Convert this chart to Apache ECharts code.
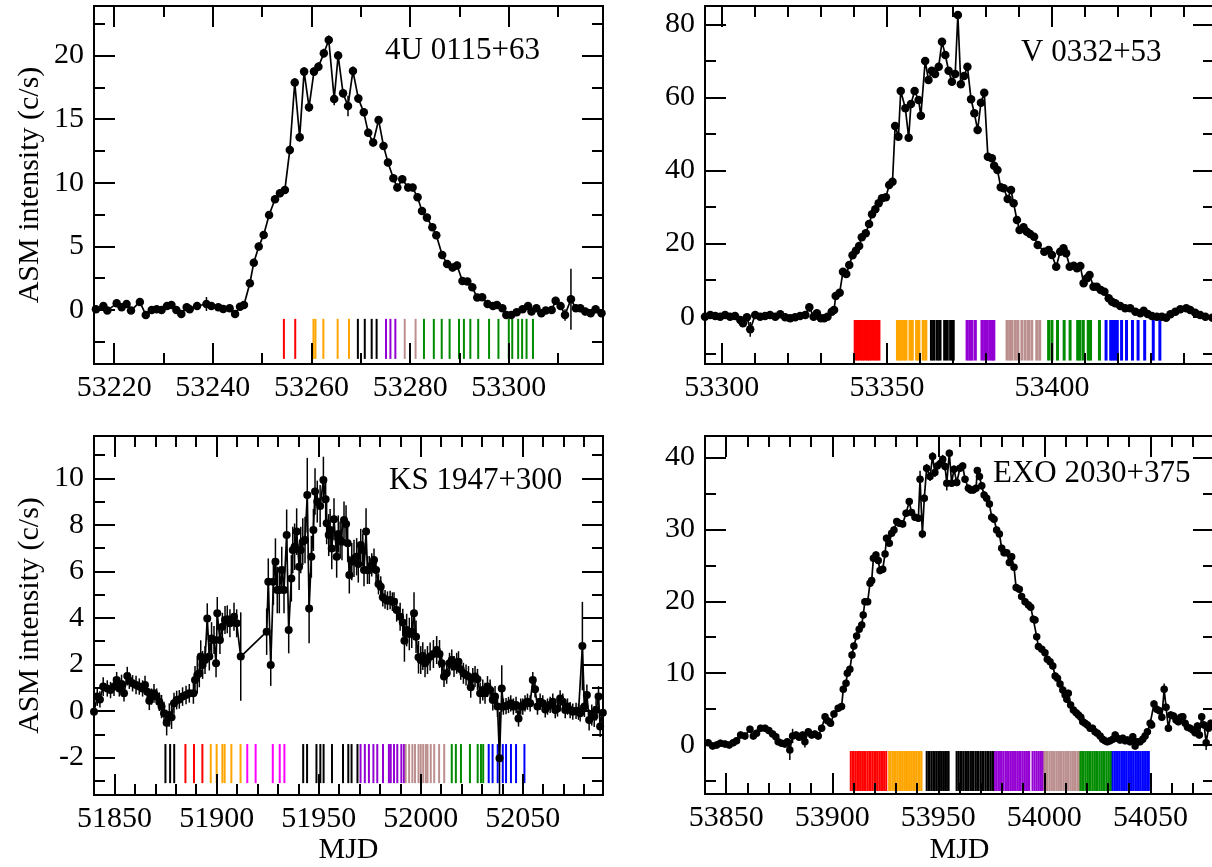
<!DOCTYPE html>
<html>
<head>
<meta charset="utf-8">
<title>ASM light curves of Be/X-ray binary outbursts</title>
<script src="https://cdn.jsdelivr.net/npm/echarts@6.0.0/dist/echarts.min.js"></script>
<style>
  html, body { margin: 0; padding: 0; background: #ffffff; }
  #chart { width: 1212px; height: 867px; }
</style>
</head>
<body>
<div id="chart"></div>
<script>
// ---------------- 4U 0115+63 ----------------
const u_mjd = [53216.3, 53217.8, 53218.6, 53220.5, 53221.5, 53222.5, 53223.4, 53225.2, 53226.4, 53227.6,
  53228.6, 53229.6, 53230.7, 53231.6, 53232.6, 53233.6, 53234.7, 53235.3, 53236.8, 53238.7,
  53239.7, 53241.1, 53242.1, 53243.4, 53244.5, 53245.5, 53246.3, 53247.5, 53248.3, 53249.3,
  53250.3, 53251.4, 53252.6, 53253.6, 53254.6, 53255.6, 53256.6, 53257.6, 53258.5, 53259.5,
  53260.5, 53261.4, 53262.5, 53263.5, 53264.6, 53265.4, 53266.4, 53267.4, 53268.4, 53269.5,
  53270.6, 53271.5, 53272.5, 53273.6, 53274.6, 53275.5, 53276.6, 53277.4, 53278.4, 53279.6,
  53280.5, 53281.5, 53282.4, 53283.4, 53284.5, 53285.3, 53286.5, 53287.5, 53288.6, 53289.5,
  53290.6, 53291.6, 53292.6, 53293.6, 53294.6, 53295.7, 53296.8, 53297.6, 53298.7, 53299.5,
  53300.5, 53301.6, 53302.8, 53303.9, 53304.6, 53305.6, 53306.6, 53307.5, 53308.7, 53309.5,
  53310.5, 53311.4, 53312.6, 53313.6, 53314.5, 53315.5, 53316.6, 53317.6, 53318.8];
const u_rate = [0.05, 0.31, -0.05, 0.52, 0.21, 0.47, -0.05, 0.63, -0.39, 0.00,
  0.05, 0.00, 0.31, 0.39, 0.00, -0.31, 0.21, 0.05, 0.31, 0.47,
  0.31, 0.21, 0.08, 0.13, -0.31, 0.26, 0.39, 2.10, 3.72, 4.98,
  5.90, 7.47, 8.70, 9.17, 9.44, 12.58, 17.88, 13.58, 18.74, 15.94,
  18.74, 19.13, 20.18, 21.23, 16.59, 20.00, 17.04, 16.04, 18.79, 16.62,
  15.54, 13.94, 13.16, 14.94, 12.90, 11.59, 10.35, 9.62, 10.28, 9.62,
  9.62, 8.86, 7.78, 7.26, 6.50, 5.87, 4.32, 3.62, 3.33, 3.49,
  2.28, 2.23, 1.78, 0.97, 1.00, 0.47, 0.31, 0.39, 0.13, -0.39,
  -0.39, -0.18, 0.05, 0.31, -0.13, 0.13, -0.26, -0.05, 0.00, 0.73,
  0.31, -0.39, 0.84, 0.13, 0.13, -0.13, -0.26, 0.05, -0.26];
const u_err = [0.25, 0.25, 0.25, 0.25, 0.25, 0.25, 0.25, 0.25, 0.25, 0.25,
  0.25, 0.25, 0.25, 0.25, 0.25, 0.3, 0.25, 0.25, 0.3, 0.55,
  0.25, 0.25, 0.25, 0.25, 0.3, 0.25, 0.25, 0.3, 0.3, 0.3,
  0.3, 0.3, 0.3, 0.3, 0.3, 0.35, 0.35, 0.35, 0.35, 0.35,
  0.35, 0.35, 0.35, 0.35, 0.5, 0.35, 0.35, 0.8, 0.35, 0.35,
  0.3, 0.3, 0.3, 0.3, 0.3, 0.3, 0.3, 0.3, 0.3, 0.3,
  0.3, 0.3, 0.3, 0.3, 0.3, 0.3, 0.3, 0.3, 0.3, 0.3,
  0.25, 0.25, 0.25, 0.25, 0.25, 0.25, 0.25, 0.25, 0.25, 0.25,
  0.25, 0.25, 0.25, 0.3, 0.25, 0.25, 0.3, 0.25, 0.3, 0.3,
  0.3, 0.45, 2.4, 0.3, 0.3, 0.3, 0.3, 0.3, 0.3];
// pointed observations, grouped by colour
const u_red = [53254.4, 53256.7];
const u_orange = [53260.4, 53260.8, 53262.4, 53265.3, 53267.6];
const u_black = [53269.4, 53270.8, 53272.2, 53273.2];
const u_violet = [53275.1, 53276.0, 53277.0];
const u_brown = [53278.9, 53281.1];
const u_green = [53282.8, 53284.8, 53286.4, 53288.0, 53289.9, 53290.9, 53292.2, 53293.8, 53296.0, 53297.9,
  53300.0, 53300.7, 53301.9, 53302.7, 53303.6, 53304.9];
const u_band = [-0.7, -3.85];
const u_xMajor = [53220, 53240, 53260, 53280, 53300];
const u_xMinor = [53230, 53250, 53270, 53290, 53310];
const u_yMajor = [0, 5, 10, 15, 20];
const u_yMinor = [-2.5, 2.5, 7.5, 12.5, 17.5, 22.5];

// ---------------- V 0332+53 ----------------
const v_mjd = [53294.9, 53296.5, 53298.0, 53299.5, 53301.0, 53302.5, 53304.0, 53305.6, 53306.4, 53307.6,
  53308.6, 53310.1, 53311.6, 53313.1, 53314.6, 53316.2, 53317.7, 53319.2, 53320.7, 53322.2,
  53323.7, 53325.3, 53326.5, 53327.8, 53328.8, 53330.0, 53331.0, 53332.0, 53333.3, 53334.0,
  53334.5, 53335.7, 53336.7, 53337.7, 53338.6, 53339.6, 53340.6, 53341.6, 53342.4, 53343.6,
  53344.6, 53345.5, 53346.5, 53347.5, 53348.5, 53349.7, 53350.7, 53351.7, 53352.5, 53353.5,
  53354.2, 53355.6, 53356.6, 53357.3, 53358.4, 53359.6, 53360.3, 53361.6, 53362.6, 53363.6,
  53364.6, 53365.7, 53366.7, 53367.7, 53368.7, 53369.7, 53370.7, 53371.5, 53372.4, 53373.4,
  53374.4, 53375.5, 53376.5, 53377.5, 53378.5, 53379.5, 53380.6, 53381.8, 53382.5, 53383.5,
  53384.5, 53385.4, 53386.6, 53387.6, 53388.4, 53389.4, 53390.2, 53391.4, 53392.4, 53393.4,
  53394.6, 53395.7, 53397.7, 53399.0, 53400.0, 53401.3, 53402.5, 53403.5, 53404.3, 53405.4,
  53406.6, 53407.6, 53408.6, 53409.6, 53410.6, 53411.4, 53412.6, 53413.6, 53414.8, 53415.9,
  53417.2, 53418.2, 53419.2, 53420.7, 53422.2, 53423.7, 53425.3, 53426.8, 53427.8, 53429.0,
  53430.3, 53431.8, 53433.3, 53434.6, 53435.9, 53437.4, 53438.9, 53440.7, 53441.9, 53443.4,
  53444.9, 53446.5, 53448.6];
const v_rate = [0.0, 0.46, 0.19, 0.0, 0.46, 0.0, 0.19, -0.91, -1.82, -0.18,
  -3.46, 0.46, 0.0, 0.19, 0.46, 0.0, 0.65, -0.18, -0.45, -0.18,
  0.19, 0.46, 2.56, 0.0, 0.92, -0.45, -0.45, 0.0, 1.38, 1.83,
  5.66, 6.57, 12.32, 11.68, 14.14, 16.79, 18.07, 19.34, 21.72, 22.81,
  25.36, 28.01, 29.38, 31.02, 32.39, 32.66, 36.03, 36.94, 52.18, 49.26,
  61.75, 57.01, 48.98, 58.19, 61.75, 59.29, 55.00, 69.96, 64.76, 67.31,
  66.40, 68.41, 75.25, 71.60, 67.31, 64.30, 66.40, 82.54, 63.58, 65.86,
  68.41, 59.47, 55.64, 51.08, 58.56, 61.30, 43.78, 43.33, 41.32, 40.14,
  35.40, 35.12, 32.20, 34.67, 31.02, 26.46, 23.72, 24.45, 23.26, 22.63,
  21.90, 19.62, 17.79, 18.25, 16.88, 13.69, 17.79, 18.71, 17.34, 13.69,
  13.96, 13.23, 13.87, 9.13, 10.50, 11.41, 8.22, 8.22, 7.31, 6.85,
  5.03, 4.11, 3.66, 2.93, 2.29, 2.29, 1.38, 0.92, 1.65, 0.74,
  0.19, 0.0, 0.0, -0.27, 0.65, 1.38, 2.02, 2.29, 1.83, 1.10,
  0.46, 0.0, -0.27];
const v_err = [0.6, 0.6, 0.6, 0.6, 0.6, 0.6, 0.6, 0.8, 1.0, 0.6,
  2.0, 0.6, 0.6, 0.6, 0.6, 0.6, 0.6, 0.6, 0.6, 0.6,
  0.6, 0.6, 1.2, 0.6, 0.6, 0.6, 0.6, 0.6, 0.6, 0.6,
  0.7, 0.7, 0.7, 0.7, 0.7, 0.7, 0.7, 0.7, 0.7, 0.7,
  0.7, 0.7, 0.7, 0.7, 0.7, 0.7, 0.7, 1.0, 1.0, 1.0,
  1.0, 1.0, 1.0, 1.0, 1.0, 1.0, 1.0, 1.0, 1.0, 1.0,
  1.0, 1.0, 1.0, 1.0, 1.0, 1.0, 1.0, 1.0, 1.0, 1.0,
  1.0, 1.0, 1.0, 1.0, 1.0, 1.0, 1.0, 1.0, 1.0, 1.0,
  1.0, 1.0, 1.0, 1.0, 1.0, 1.0, 1.0, 1.0, 1.0, 1.0,
  0.8, 0.8, 0.8, 0.8, 0.8, 0.8, 0.8, 0.8, 0.8, 0.8,
  0.8, 0.8, 0.8, 0.8, 0.8, 0.8, 0.8, 0.8, 0.8, 0.8,
  0.6, 0.6, 0.6, 0.6, 0.6, 0.6, 0.6, 0.6, 0.6, 0.6,
  0.6, 0.6, 0.6, 0.6, 0.6, 0.6, 0.6, 0.6, 0.6, 0.6,
  0.6, 0.6, 0.6];
const v_red = [53340.4, 53341.1, 53341.9, 53342.6, 53343.3, 53344.1, 53344.7, 53345.4, 53346.2, 53346.9, 53347.6];
const v_orange = [53353.2, 53353.8, 53354.4, 53355.2, 53355.8, 53357.0, 53357.7, 53359.0, 53359.7, 53361.0, 53361.8];
const v_black = [53363.5, 53364.3, 53365.3, 53366.1, 53367.5, 53368.3, 53369.3, 53370.1];
const v_violet = [53374.3, 53375.1, 53375.8, 53376.8, 53378.8, 53379.6, 53380.4, 53381.2, 53381.9, 53382.4];
const v_brown = [53386.4, 53387.2, 53387.9, 53388.9, 53389.7, 53390.9, 53391.9, 53392.9, 53393.9, 53395.4, 53396.3];
const v_green = [53399.0, 53400.0, 53401.7, 53403.7, 53405.5, 53407.8, 53408.5, 53409.5, 53411.0, 53411.7, 53414.4];
const v_blue = [53416.4, 53417.8, 53418.4, 53419.1, 53419.8, 53421.1, 53422.6, 53424.4, 53426.1, 53428.1, 53430.7, 53432.7];
const v_band = [-0.9, -12.0];
const v_xMajor = [53300, 53350, 53400];
const v_xMinor = [53310, 53320, 53330, 53340, 53360, 53370, 53380, 53390, 53410, 53420, 53430, 53440];
const v_yMajor = [0, 20, 40, 60, 80];
const v_yMinor = [-10, 10, 30, 50, 70];

// ---------------- KS 1947+300 ----------------
const k_mjd = [51839.9, 51841.5, 51842.8, 51844.4, 51846.4, 51848.0, 51849.7, 51851.0, 51852.3, 51853.4,
  51854.6, 51856.2, 51857.2, 51858.8, 51860.5, 51862.1, 51863.7, 51864.9, 51866.0, 51867.0,
  51868.1, 51869.3, 51870.6, 51871.9, 51873.0, 51874.2, 51875.5, 51876.8, 51877.9, 51879.1,
  51880.4, 51881.7, 51883.3, 51885.0, 51886.6, 51888.6, 51889.4, 51890.5, 51891.5, 51892.2,
  51893.1, 51894.3, 51895.4, 51896.4, 51897.5, 51898.7, 51899.7, 51900.3, 51901.6, 51902.8,
  51904.1, 51905.2, 51906.5, 51908.5, 51909.8, 51911.8, 51924.5, 51925.3, 51926.5, 51927.8,
  51928.8, 51929.7, 51930.7, 51931.9, 51933.0, 51934.3, 51935.3, 51936.6, 51937.3, 51938.2,
  51939.2, 51940.4, 51941.2, 51942.2, 51943.3, 51944.4, 51945.3, 51946.4, 51947.4, 51948.2,
  51949.3, 51950.7, 51952.3, 51953.4, 51953.9, 51954.9, 51955.6, 51956.4, 51957.5, 51958.8,
  51959.6, 51960.5, 51961.4, 51962.4, 51963.4, 51964.2, 51965.0, 51966.2, 51967.3, 51968.6,
  51969.4, 51970.6, 51971.6, 51972.2, 51973.2, 51973.9, 51974.8, 51976.0, 51977.1, 51978.1,
  51979.3, 51980.4, 51981.4, 51982.5, 51983.7, 51985.0, 51986.1, 51986.9, 51988.2, 51989.9,
  51991.2, 51992.0, 51993.1, 51994.4, 51995.6, 51996.7, 51997.7, 51998.9, 52000.0, 52001.0,
  52002.1, 52003.3, 52004.6, 52006.2, 52007.8, 52009.2, 52010.3, 52011.4, 52012.7, 52014.1,
  52015.2, 52016.3, 52017.6, 52018.5, 52019.6, 52020.9, 52022.2, 52023.4, 52024.5, 52025.5,
  52026.6, 52027.8, 52029.1, 52030.4, 52031.5, 52032.7, 52034.0, 52035.3, 52036.4, 52037.6,
  52038.6, 52039.7, 52040.5, 52041.8, 52043.0, 52044.1, 52045.4, 52046.7, 52047.9, 52049.0,
  52050.0, 52051.1, 52052.3, 52053.6, 52054.9, 52056.0, 52057.2, 52058.5, 52059.8, 52061.0,
  52062.1, 52063.4, 52064.7, 52065.9, 52067.0, 52068.3, 52069.6, 52070.8, 52071.9, 52073.2,
  52074.5, 52076.1, 52077.3, 52078.1, 52079.2, 52080.2, 52081.4, 52082.5, 52083.8, 52085.0,
  52085.9, 52087.1, 52087.9, 52089.2];
const k_rate = [-0.03, 0.62, 0.50, 1.05, 0.97, 0.90, 1.05, 1.33, 0.97, 1.16,
  0.76, 1.50, 1.30, 1.19, 1.12, 1.05, 0.97, 1.12, 0.83, 0.44,
  0.62, 0.76, 0.62, 0.40, 0.19, -0.10, -0.50, -0.17, -0.27, 0.33,
  0.47, 0.50, 0.62, 0.69, 0.76, 0.76, 1.33, 1.55, 1.62, 2.34,
  1.98, 2.19, 3.98, 2.34, 3.12, 3.05, 2.05, 4.20, 3.05, 3.62,
  3.91, 3.94, 3.77, 4.05, 3.77, 2.34, 3.41, 5.56, 1.98, 5.56,
  6.42, 5.20, 5.20, 6.06, 5.20, 7.56, 3.48, 5.70, 6.92, 7.06,
  7.71, 6.20, 6.92, 7.28, 7.35, 9.28, 4.41, 6.63, 7.78, 9.43,
  9.00, 8.81, 9.93, 9.10, 8.07, 7.56, 7.78, 6.99, 8.24, 6.63,
  7.61, 7.35, 7.28, 8.21, 8.04, 7.21, 5.85, 6.42, 6.56, 6.63,
  6.32, 7.13, 6.92, 6.06, 7.71, 6.06, 6.06, 6.28, 6.49, 6.06,
  5.46, 5.34, 4.89, 4.80, 4.74, 4.77, 4.70, 4.70, 4.34, 4.05,
  3.80, 3.02, 3.48, 3.31, 3.41, 4.20, 3.19, 2.31, 2.19, 2.36,
  2.05, 2.19, 2.34, 2.45, 2.62, 2.45, 2.05, 1.48, 1.62, 2.05,
  2.19, 1.91, 2.05, 2.12, 1.79, 1.62, 1.55, 1.48, 1.02, 1.40,
  1.48, 1.36, 0.76, 0.90, 0.76, 1.05, 0.90, 0.47, 0.62, 0.19,
  -2.03, 0.97, 0.19, 0.21, 0.26, 0.33, 0.19, 0.26, -0.32, 0.19,
  0.19, 0.33, 0.40, 0.33, 1.33, 0.93, 0.19, 0.40, 0.33, 0.07,
  0.19, 0.26, 0.40, 0.04, 0.11, 0.54, 0.40, 0.04, 0.19, 0.04,
  -0.03, 0.01, -0.03, -0.10, 2.79, 0.19, 0.69, -0.39, -0.17, -0.24,
  0.04, 0.62, -0.67, -0.07];
const k_err = [0.35, 0.4, 0.35, 0.4, 0.35, 0.35, 0.4, 0.35, 0.35, 0.4,
  0.35, 0.4, 0.35, 0.35, 0.4, 0.35, 0.35, 0.4, 0.35, 0.4,
  0.35, 0.4, 0.35, 0.4, 0.5, 0.5, 0.55, 0.5, 0.5, 0.45,
  0.4, 0.4, 0.4, 0.4, 0.4, 0.45, 0.6, 0.8, 0.6, 0.7,
  0.6, 0.6, 0.65, 0.6, 0.7, 0.6, 0.6, 0.7, 0.6, 0.6,
  0.6, 0.6, 0.6, 0.6, 0.6, 1.9, 1.0, 1.0, 0.9, 1.0,
  1.0, 1.0, 1.0, 1.0, 1.0, 1.1, 1.0, 1.0, 1.0, 1.0,
  1.0, 1.0, 1.0, 1.0, 1.0, 1.6, 1.5, 0.9, 0.9, 1.0,
  0.9, 0.9, 1.0, 0.9, 0.9, 0.9, 0.9, 0.9, 0.9, 0.9,
  0.8, 0.8, 0.8, 0.8, 0.8, 0.8, 0.8, 0.8, 0.8, 0.8,
  0.8, 0.7, 0.7, 0.7, 1.0, 0.6, 0.6, 0.5, 0.5, 0.5,
  0.45, 0.45, 0.4, 0.4, 0.4, 0.4, 0.4, 0.4, 0.5, 0.6,
  0.6, 0.9, 0.7, 0.7, 0.7, 0.9, 0.7, 0.7, 0.6, 0.6,
  0.6, 0.6, 0.6, 0.6, 0.6, 0.6, 0.5, 0.45, 0.45, 0.45,
  0.45, 0.45, 0.45, 0.45, 0.45, 0.45, 0.45, 0.45, 0.45, 0.45,
  0.45, 0.45, 0.45, 0.45, 0.45, 0.45, 0.45, 0.45, 0.45, 0.45,
  2.0, 1.0, 0.35, 0.35, 0.35, 0.35, 0.35, 0.35, 0.35, 0.35,
  0.35, 0.35, 0.35, 0.35, 0.35, 0.35, 0.35, 0.35, 0.35, 0.35,
  0.35, 0.35, 0.35, 0.35, 0.35, 0.35, 0.35, 0.35, 0.35, 0.35,
  0.35, 0.35, 0.35, 0.35, 1.9, 0.45, 0.45, 0.45, 0.45, 0.45,
  0.45, 0.45, 0.45, 0.45];
const k_black = [51874.9, 51877.2, 51879.2, 51942.4, 51944.3, 51948.9, 51950.8, 51952.4, 51956.5, 51961.9,
  51964.5, 51966.1, 51969.0];
const k_red = [51884.7, 51888.9, 51893.0];
const k_orange = [51897.1, 51900.0, 51902.8, 51903.9, 51907.2, 51911.7];
const k_magenta = [51915.0, 51919.1, 51927.5, 51930.9, 51933.2];
const k_violet = [51970.5, 51972.6, 51974.6, 51976.8, 51978.7, 51981.5, 51984.4, 51985.3, 51986.9, 51988.5,
  51990.5, 51991.8];
const k_brown = [51992.6, 51994.3, 51995.9, 51997.2, 51998.9, 52000.0, 52001.2, 52002.5, 52003.3, 52004.9,
  52006.6, 52009.0, 52011.5];
const k_green = [52015.2, 52017.2, 52019.7, 52024.1, 52027.9, 52029.5, 52030.6];
const k_blue = [52033.3, 52035.2, 52037.7, 52040.2, 52041.8, 52044.2, 52046.7, 52050.8];
const k_band = [-1.42, -3.1];
const k_xMajor = [51850, 51900, 51950, 52000, 52050];
const k_xMinor = [51860, 51870, 51880, 51890, 51910, 51920, 51930, 51940, 51960, 51970, 51980, 51990,
  52010, 52020, 52030, 52040, 52060, 52070, 52080];
const k_yMajor = [-2, 0, 2, 4, 6, 8, 10];
const k_yMinor = [-3, -1, 1, 3, 5, 7, 9, 11];

// ---------------- EXO 2030+375 ----------------
const e_mjd = [53839.5, 53841.5, 53843.6, 53845.5, 53847.3, 53849.4, 53851.4, 53853.3, 53854.9, 53856.8,
  53858.8, 53861.2, 53862.8, 53864.3, 53866.2, 53868.3, 53870.1, 53871.9, 53873.4, 53874.5,
  53876.1, 53877.7, 53878.8, 53880.0, 53881.3, 53882.9, 53884.4, 53886.0, 53887.1, 53888.7,
  53890.3, 53891.8, 53893.4, 53895.0, 53896.6, 53897.8, 53899.2, 53900.8, 53902.8, 53904.4,
  53905.2, 53906.5, 53907.1, 53908.3, 53909.3, 53910.2, 53911.5, 53912.7, 53913.9, 53914.6,
  53915.4, 53916.7, 53917.8, 53918.6, 53919.4, 53920.6, 53921.7, 53922.5, 53923.8, 53924.9,
  53925.6, 53926.9, 53928.0, 53929.1, 53930.4, 53931.6, 53933.2, 53934.8, 53936.3, 53937.4,
  53939.0, 53940.6, 53941.4, 53942.5, 53943.4, 53944.5, 53946.1, 53947.3, 53948.4, 53949.5,
  53951.1, 53952.1, 53953.2, 53954.0, 53955.2, 53956.3, 53957.4, 53958.7, 53960.2, 53961.5,
  53962.6, 53964.2, 53965.3, 53966.5, 53967.8, 53968.4, 53969.4, 53970.5, 53971.6, 53972.8,
  53974.1, 53975.2, 53976.3, 53977.5, 53978.8, 53979.9, 53981.0, 53982.3, 53983.5, 53984.6,
  53985.7, 53986.7, 53988.2, 53989.3, 53990.9, 53992.5, 53993.6, 53994.8, 53995.6, 53996.4,
  53997.2, 53998.8, 54000.3, 54001.4, 54002.7, 54004.0, 54005.1, 54006.2, 54007.4, 54008.7,
  54009.8, 54010.6, 54011.3, 54012.4, 54013.7, 54015.0, 54016.1, 54017.2, 54018.1, 54019.2,
  54020.3, 54021.6, 54022.7, 54023.9, 54025.0, 54026.3, 54027.5, 54028.6, 54029.7, 54031.0,
  54032.3, 54033.4, 54034.5, 54035.7, 54037.0, 54038.1, 54039.2, 54040.4, 54041.7, 54042.8,
  54043.9, 54045.1, 54046.4, 54047.5, 54048.6, 54049.9, 54050.6, 54051.7, 54053.0, 54054.3,
  54055.4, 54056.5, 54057.4, 54058.5, 54059.6, 54060.9, 54062.1, 54063.2, 54064.3, 54065.3,
  54066.4, 54067.5, 54068.7, 54070.0, 54071.1, 54072.2, 54073.1, 54074.2, 54075.3, 54076.3,
  54077.4, 54078.5];
const e_rate = [0.14, 0.32, -0.14, 0.00, 0.23, 0.14, 0.00, 0.32, 0.60, 1.39,
  1.25, 2.18, 1.25, 1.62, 2.32, 2.32, 2.00, 1.53, 1.16, 0.46,
  0.23, 0.14, 0.46, -0.70, 1.25, 1.39, 1.07, 1.39, 0.46, 1.86,
  1.39, 1.53, 1.25, 2.32, 3.94, 3.39, 3.02, 4.32, 5.10, 5.34,
  7.75, 8.58, 9.98, 10.53, 12.53, 13.78, 15.17, 16.10, 16.71, 18.10,
  19.95, 19.95, 22.51, 22.88, 25.99, 26.45, 25.66, 24.27, 24.45, 26.59,
  28.77, 28.07, 29.47, 29.93, 31.09, 30.86, 30.77, 32.25, 33.87, 32.34,
  31.69, 31.55, 36.98, 29.37, 34.34, 38.52, 37.35, 40.14, 37.91, 38.84,
  39.21, 39.77, 38.75, 36.43, 40.60, 36.43, 38.38, 36.52, 38.52, 38.84,
  36.98, 35.73, 35.50, 35.50, 35.73, 38.19, 37.35, 36.06, 34.80, 34.34,
  33.55, 31.69, 31.42, 29.93, 29.37, 27.38, 26.77, 26.77, 25.38, 26.21,
  24.73, 21.90, 21.67, 20.65, 19.95, 19.49, 19.16, 17.49, 17.40, 15.08,
  13.69, 13.32, 12.85, 11.93, 11.60, 11.00, 9.61, 9.28, 8.49, 7.66,
  6.96, 6.36, 7.19, 5.57, 4.87, 4.50, 4.18, 3.85, 3.25, 3.02,
  2.78, 2.32, 2.32, 1.86, 1.62, 1.25, 0.79, 0.60, 0.46, 0.60,
  0.79, 1.39, 0.93, 0.70, 0.93, 0.60, 0.70, 0.46, 1.16, -0.14,
  0.46, 0.46, 0.79, 1.25, 1.86, 3.02, 2.78, 5.71, 4.97, 4.78,
  3.85, 7.75, 5.24, 2.32, 4.18, 4.04, 3.48, 3.25, 3.85, 3.94,
  3.02, 2.46, 2.32, 2.09, 1.72, 2.65, 1.39, 3.94, 2.78, 0.32,
  2.32, 3.02];
const e_err = [0.5, 0.5, 0.5, 0.5, 0.5, 0.5, 0.5, 0.5, 0.5, 0.5,
  0.5, 0.5, 0.5, 0.5, 0.5, 0.5, 0.5, 0.5, 0.5, 0.5,
  0.5, 0.5, 0.5, 1.4, 1.0, 0.5, 0.5, 0.5, 0.8, 0.5,
  0.5, 0.5, 0.5, 0.5, 0.5, 0.5, 0.5, 0.5, 0.5, 0.5,
  0.5, 0.5, 0.5, 0.5, 0.5, 0.5, 0.5, 0.5, 0.5, 0.5,
  0.5, 0.5, 0.5, 0.5, 0.5, 0.5, 0.5, 0.5, 0.5, 0.5,
  0.5, 0.5, 0.5, 0.5, 0.5, 0.5, 0.5, 0.5, 0.5, 0.5,
  0.5, 0.5, 1.2, 0.6, 0.6, 0.6, 0.6, 0.6, 0.6, 0.6,
  0.6, 0.6, 0.6, 1.0, 0.5, 0.5, 0.5, 0.5, 0.5, 0.5,
  0.5, 0.5, 0.5, 0.5, 0.5, 0.5, 0.5, 0.5, 0.5, 0.5,
  0.5, 0.5, 0.5, 0.5, 0.5, 0.5, 0.5, 0.5, 0.5, 0.5,
  0.5, 0.5, 0.5, 0.5, 0.5, 0.5, 0.5, 0.5, 0.5, 0.5,
  0.5, 0.5, 0.5, 0.5, 0.5, 0.5, 0.5, 0.5, 0.5, 0.5,
  0.5, 0.5, 0.5, 0.5, 0.5, 0.5, 0.5, 0.5, 0.5, 0.5,
  0.5, 0.5, 0.5, 0.5, 0.5, 0.5, 0.5, 0.5, 0.5, 0.5,
  0.5, 0.5, 0.5, 0.5, 0.5, 0.5, 0.5, 0.5, 0.5, 0.5,
  0.5, 0.5, 0.5, 0.5, 0.5, 0.5, 0.5, 0.5, 0.5, 0.5,
  0.5, 0.8, 0.5, 0.5, 0.5, 0.5, 0.5, 0.5, 0.5, 0.5,
  0.5, 0.5, 0.5, 0.5, 0.5, 0.5, 0.5, 0.5, 0.5, 1.0,
  0.5, 0.5];
const e_red = [53908.7, 53909.5, 53910.2, 53911.1, 53911.9, 53912.6, 53913.5, 53914.3, 53915.0, 53915.8,
  53916.7, 53917.5, 53918.2, 53919.1, 53919.9, 53920.6, 53921.5, 53922.4, 53923.1, 53923.9, 53924.7, 53925.5];
const e_orange = [53926.8, 53927.6, 53928.5, 53929.2, 53930.0, 53930.9, 53931.7, 53932.4, 53933.3, 53934.1,
  53934.8, 53935.7, 53936.5, 53937.2, 53938.1, 53938.9, 53939.6, 53940.5, 53941.3, 53942.1];
const e_black = [53944.5, 53945.3, 53946.0, 53946.9, 53947.7, 53948.4, 53949.3, 53950.1, 53950.8, 53951.7,
  53952.5, 53953.2, 53954.1, 53954.9,
  53958.6, 53959.4, 53960.3, 53961.0, 53961.8, 53962.7, 53963.5, 53964.2, 53965.1, 53965.9,
  53966.6, 53967.5, 53968.3, 53969.0, 53969.9, 53970.7, 53971.4, 53972.3, 53973.1, 53973.8,
  53974.7, 53975.5, 53976.1];
const e_violet = [53976.7, 53977.5, 53978.3, 53979.1, 53979.9, 53980.7, 53981.6, 53982.4, 53983.2, 53984.0,
  53984.8, 53985.7, 53986.5, 53987.3, 53988.1, 53988.9, 53989.8, 53990.6, 53991.4, 53992.3, 53992.9,
  53994.4, 53995.3, 53996.2, 53997.1, 53998.0, 53998.9, 53999.5];
const e_brown = [54000.0, 54000.8, 54001.6, 54002.5, 54003.3, 54004.1, 54004.9, 54005.8, 54006.6, 54007.4,
  54008.2, 54009.1, 54009.9, 54010.7, 54011.5, 54012.4, 54013.2, 54014.0, 54014.8, 54015.7, 54016.4];
const e_green = [54017.0, 54017.8, 54018.6, 54019.5, 54020.3, 54021.1, 54021.9, 54022.8, 54023.6, 54024.4,
  54025.2, 54026.1, 54026.9, 54027.7, 54028.5, 54029.4, 54030.2, 54031.0, 54031.6];
const e_blue = [54032.2, 54033.0, 54033.8, 54034.7, 54035.5, 54036.3, 54037.1, 54038.0, 54038.8, 54039.6,
  54040.4, 54041.3, 54042.1, 54042.9, 54043.7, 54044.6, 54045.4, 54046.2, 54047.0, 54047.9, 54048.7, 54049.3];
const e_band = [-0.84, -6.4];
const e_xMajor = [53850, 53900, 53950, 54000, 54050];
const e_xMinor = [53860, 53870, 53880, 53890, 53910, 53920, 53930, 53940, 53960, 53970, 53980, 53990,
  54010, 54020, 54030, 54040, 54060, 54070];
const e_yMajor = [0, 10, 20, 30, 40];
const e_yMinor = [-5, 5, 15, 25, 35];

// ---------------- styling ----------------
const FONT = '"Liberation Serif", "Times New Roman", Times, serif';
const COL = {
  red: '#ff0000', orange: '#ffa500', black: '#000000', violet: '#9400d3',
  brown: '#bc8f8f', green: '#008b00', blue: '#0000ff', magenta: '#ff00ff'
};

const panels = [
  { title: '4U 0115+63', mjd: u_mjd, rate: u_rate, err: u_err, band: u_band,
    obs: [['red', u_red], ['orange', u_orange], ['black', u_black], ['violet', u_violet], ['brown', u_brown], ['green', u_green]],
    xRange: [53215.9, 53319.1], yRange: [-4.25, 23.9],
    xMajor: u_xMajor, xMinor: u_xMinor, yMajor: u_yMajor, yMinor: u_yMinor,
    box: [94, 6, 509, 358], titleAt: [385, 51], barWidth: 2, dot: 8.5 },
  { title: 'V 0332+53', mjd: v_mjd, rate: v_rate, err: v_err, band: v_band,
    obs: [['red', v_red], ['orange', v_orange], ['black', v_black], ['violet', v_violet], ['brown', v_brown], ['green', v_green], ['blue', v_blue]],
    xRange: [53294.9, 53449.1], yRange: [-12.94, 85.0],
    xMajor: v_xMajor, xMinor: v_xMinor, yMajor: v_yMajor, yMinor: v_yMinor,
    box: [705, 6, 509, 358], titleAt: [1021, 52.5], barWidth: 3, dot: 8.5 },
  { title: 'KS 1947+300', mjd: k_mjd, rate: k_rate, err: k_err, band: k_band,
    obs: [['black', k_black], ['red', k_red], ['orange', k_orange], ['magenta', k_magenta], ['violet', k_violet], ['brown', k_brown], ['green', k_green], ['blue', k_blue]],
    xRange: [51839.9, 52089.3], yRange: [-3.61, 11.82],
    xMajor: k_xMajor, xMinor: k_xMinor, yMajor: k_yMajor, yMinor: k_yMinor,
    box: [94, 436, 509, 359], titleAt: [389, 481], barWidth: 2, dot: 8 },
  { title: 'EXO 2030+375', mjd: e_mjd, rate: e_rate, err: e_err, band: e_band,
    obs: [['red', e_red], ['orange', e_orange], ['black', e_black], ['violet', e_violet], ['brown', e_brown], ['green', e_green], ['blue', e_blue]],
    xRange: [53840.0, 54080.0], yRange: [-6.82, 43.0],
    xMajor: e_xMajor, xMinor: e_xMinor, yMajor: e_yMajor, yMinor: e_yMinor,
    box: [705, 436, 509, 358], titleAt: [993, 474], barWidth: 1.9, dot: 7.5 }
];

const LONG = 21, SHORT = 11;
const tickLine = { color: '#000', width: 2 };
const labelStyle = { color: '#000', fontFamily: FONT, fontSize: 30 };

function axis(gi, range, position, values, len, withLabels, margin) {
  return {
    gridIndex: gi, type: 'value', position: position,
    min: range[0], max: range[1],
    splitLine: { show: false },
    axisLine: { show: false, onZero: false },
    axisTick: { show: true, inside: true, length: len, customValues: values, lineStyle: tickLine },
    axisLabel: withLabels
      ? Object.assign({ show: true, customValues: values, margin: margin, formatter: v => String(v) }, labelStyle)
      : { show: false },
    silent: true, z: 5
  };
}

const grids = [], xAxes = [], yAxes = [], series = [], graphics = [];

panels.forEach((P, gi) => {
  grids.push({
    left: P.box[0], top: P.box[1], width: P.box[2], height: P.box[3],
    show: true, borderColor: '#000', borderWidth: 2, backgroundColor: 'rgba(0,0,0,0)',
    containLabel: false, outerBoundsMode: 'none'
  });
  xAxes.push(axis(gi, P.xRange, 'bottom', P.xMajor, LONG, true, 9));
  xAxes.push(axis(gi, P.xRange, 'bottom', P.xMinor, SHORT, false));
  xAxes.push(axis(gi, P.xRange, 'top', P.xMajor, LONG, false));
  xAxes.push(axis(gi, P.xRange, 'top', P.xMinor, SHORT, false));
  yAxes.push(axis(gi, P.yRange, 'left', P.yMajor, LONG, true, 10));
  yAxes.push(axis(gi, P.yRange, 'left', P.yMinor, SHORT, false));
  yAxes.push(axis(gi, P.yRange, 'right', P.yMajor, LONG, false));
  yAxes.push(axis(gi, P.yRange, 'right', P.yMinor, SHORT, false));

  const xi = gi * 4, yi = gi * 4;

  // observation markers below the light curve
  P.obs.forEach(([name, list]) => {
    const color = COL[name];
    series.push({
      type: 'custom', xAxisIndex: xi, yAxisIndex: yi, clip: true, silent: true, z: 1,
      data: list.map(m => [m, P.band[0], P.band[1]]),
      encode: { x: 0, y: [1, 2] },
      renderItem: (params, api) => {
        const a = api.coord([api.value(0), api.value(1)]);
        const b = api.coord([api.value(0), api.value(2)]);
        return { type: 'line', shape: { x1: a[0], y1: a[1], x2: b[0], y2: b[1] },
                 style: { stroke: color, lineWidth: P.barWidth } };
      }
    });
  });

  // error bars
  series.push({
    type: 'custom', xAxisIndex: xi, yAxisIndex: yi, clip: true, silent: true, z: 2,
    data: P.mjd.map((m, i) => [m, P.rate[i] - P.err[i], P.rate[i] + P.err[i]]),
    encode: { x: 0, y: [1, 2] },
    renderItem: (params, api) => {
      const a = api.coord([api.value(0), api.value(1)]);
      const b = api.coord([api.value(0), api.value(2)]);
      return { type: 'line', shape: { x1: a[0], y1: a[1], x2: b[0], y2: b[1] },
               style: { stroke: '#000', lineWidth: 1.5 } };
    }
  });

  // light curve
  series.push({
    type: 'line', xAxisIndex: xi, yAxisIndex: yi, z: 3, silent: true,
    data: P.mjd.map((m, i) => [m, P.rate[i]]),
    symbol: 'circle', symbolSize: P.dot, showSymbol: true,
    itemStyle: { color: '#000' },
    lineStyle: { color: '#000', width: 1.7 },
    emphasis: { disabled: true }
  });

  graphics.push({
    type: 'text', x: P.titleAt[0], y: P.titleAt[1], silent: true,
    style: { text: P.title, fill: '#000', font: '31px ' + FONT, textAlign: 'left', textVerticalAlign: 'middle' }
  });
});

// axis titles
[[30, 185], [30, 615.5]].forEach(([x, y]) => graphics.push({
  type: 'text', x: x, y: y, rotation: Math.PI / 2, silent: true,
  style: { text: 'ASM intensity (c/s)', fill: '#000', font: '30px ' + FONT, textAlign: 'center', textVerticalAlign: 'middle' }
}));
[[348.5, 850.5], [959.5, 850.5]].forEach(([x, y]) => graphics.push({
  type: 'text', x: x, y: y, silent: true,
  style: { text: 'MJD', fill: '#000', font: '30px ' + FONT, textAlign: 'center', textVerticalAlign: 'middle' }
}));

const chart = echarts.init(document.getElementById('chart'), null, { renderer: 'canvas' });
chart.setOption({
  animation: false,
  backgroundColor: '#ffffff',
  grid: grids,
  xAxis: xAxes,
  yAxis: yAxes,
  series: series,
  graphic: graphics
});
</script>
</body>
</html>
